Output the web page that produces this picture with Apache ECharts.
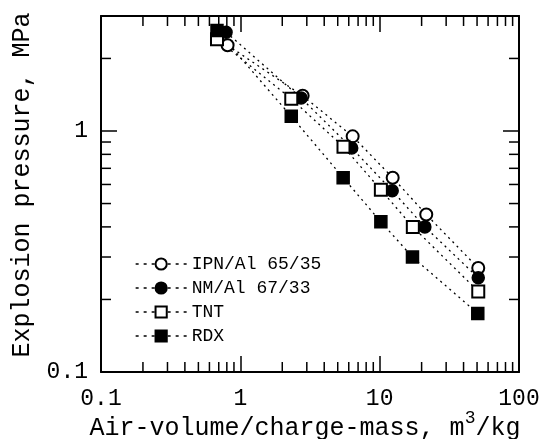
<!DOCTYPE html>
<html>
<head>
<meta charset="utf-8">
<script src="https://cdn.jsdelivr.net/npm/echarts@6/dist/echarts.min.js"></script>
<style>html,body{margin:0;padding:0;background:#fff}#c{width:542px;height:439px}</style>
</head>
<body>
<div id="c"></div>
<script>
const ipnX = [0.81, 2.8, 6.4, 12.4, 21.6, 51];
const ipnY = [2.27, 1.40, 0.95, 0.64, 0.45, 0.27];
const nmX  = [0.79, 2.73, 6.3, 12.3, 21.1, 51];
const nmY  = [2.57, 1.37, 0.85, 0.565, 0.40, 0.246];
const tntX = [0.68, 2.32, 5.5, 10.2, 17.3, 51];
const tntY = [2.40, 1.36, 0.86, 0.57, 0.40, 0.216];
const rdxX = [0.68, 2.32, 5.47, 10.2, 17.2, 50.6];
const rdxY = [2.61, 1.15, 0.64, 0.42, 0.30, 0.175];
const seriesNames = ['IPN/Al 65/35', 'NM/Al 67/33', 'TNT', 'RDX'];
const xMinorTicks = [0.2,0.3,0.4,0.5,0.6,0.7,0.8,0.9,2,3,4,5,6,7,8,9,20,30,40,50,60,70,80,90];
const yMinorTicks = [0.2,0.3,0.4,0.5,0.6,0.7,0.8,0.9,2];
const X_MIN = 0.1, X_MAX = 100, Y_MIN = 0.1, Y_MAX = 3;

const FONT = '"Liberation Mono", "DejaVu Sans Mono", monospace';
const pair = (xs, ys) => xs.map((x, i) => [x, ys[i]]);
const lineStyle = {color: '#000', width: 1.3, type: [2, 4]};

function mk(name, xs, ys, symbol, size) {
  return {
    name, type: 'line', data: pair(xs, ys), symbol, symbolSize: size,
    lineStyle, itemStyle: {color: '#000', borderColor: '#000', borderWidth: 1.5},
    emphasis: {disabled: true}, z: 3
  };
}
const tickStyle = {stroke: '#000', lineWidth: 1.5};

const chart = echarts.init(document.getElementById('c'), null, {renderer: 'canvas'});
chart.setOption({
  animation: false,
  backgroundColor: '#fff',
  grid: {left: 101, right: 23, top: 16, bottom: 67, containLabel: false, outerBoundsMode: 'none'},
  legend: {
    data: seriesNames, orient: 'vertical', left: 130, top: 250,
    itemWidth: 51, itemHeight: 14, itemGap: 6,
    lineStyle: {type: [3, 5], width: 1.3, color: '#000'},
    textStyle: {fontFamily: FONT, fontSize: 18, color: '#000', lineHeight: 18}
  },
  xAxis: [{
    type: 'log', logBase: 10, min: X_MIN, max: X_MAX, position: 'bottom',
    axisLine: {show: true, lineStyle: {color: '#000', width: 2}},
    axisTick: {show: true, inside: true, length: 16, lineStyle: {color: '#000', width: 1.5}},
    axisLabel: {fontFamily: FONT, fontSize: 23, color: '#000', margin: 15,
      formatter: v => (Math.abs(v - 0.1) < 1e-9 ? '0.1' : String(Math.round(v)))},
    splitLine: {show: false},
    name: 'Air-volume/charge-mass, m{s|3}/kg', nameLocation: 'middle', nameGap: 44,
    nameMoveOverlap: false,
    nameTextStyle: {fontFamily: FONT, fontSize: 25, color: '#000', lineHeight: 25, padding: [0, 10, 0, 0],
      rich: {s: {fontFamily: FONT, fontSize: 18, color: '#000', padding: [0, 0, 20, 0]}}}
  }, {
    type: 'log', logBase: 10, min: X_MIN, max: X_MAX, position: 'top',
    axisLine: {show: true, lineStyle: {color: '#000', width: 2}},
    axisTick: {show: true, inside: true, length: 16, lineStyle: {color: '#000', width: 1.5}},
    axisLabel: {show: false}, splitLine: {show: false}
  }],
  yAxis: [{
    type: 'log', logBase: 10, min: Y_MIN, max: Y_MAX, position: 'left',
    axisLine: {show: true, lineStyle: {color: '#000', width: 2}},
    axisTick: {show: true, inside: true, length: 16, lineStyle: {color: '#000', width: 1.5}},
    axisLabel: {fontFamily: FONT, fontSize: 23, color: '#000', margin: 13,
      formatter: v => (Math.abs(v - 0.1) < 1e-9 ? '0.1' : (Math.abs(v - 1) < 1e-9 ? '1' : ''))},
    splitLine: {show: false},
    name: 'Explosion pressure, MPa', nameLocation: 'middle', nameGap: 66,
    nameMoveOverlap: false,
    nameTextStyle: {fontFamily: FONT, fontSize: 25, color: '#000', lineHeight: 25, padding: [0, 0, 0, 18]}
  }, {
    type: 'log', logBase: 10, min: Y_MIN, max: Y_MAX, position: 'right',
    axisLine: {show: true, lineStyle: {color: '#000', width: 2}},
    axisTick: {show: true, inside: true, length: 16, lineStyle: {color: '#000', width: 1.5}},
    axisLabel: {show: false}, splitLine: {show: false}
  }],
  series: [
    {
      type: 'custom', silent: true, clip: false, z: 1,
      data: xMinorTicks.map(v => [v, 1]),
      renderItem: (params, api) => {
        const v = api.value(0);
        const b = api.coord([v, Y_MIN]), t = api.coord([v, Y_MAX]);
        return {type: 'group', children: [
          {type: 'line', shape: {x1: b[0], y1: b[1], x2: b[0], y2: b[1] - 10}, style: tickStyle},
          {type: 'line', shape: {x1: t[0], y1: t[1], x2: t[0], y2: t[1] + 10}, style: tickStyle}
        ]};
      }
    },
    {
      type: 'custom', silent: true, clip: false, z: 1,
      data: yMinorTicks.map(v => [1, v]),
      renderItem: (params, api) => {
        const v = api.value(1);
        const l = api.coord([X_MIN, v]), r = api.coord([X_MAX, v]);
        return {type: 'group', children: [
          {type: 'line', shape: {x1: l[0], y1: l[1], x2: l[0] + 10, y2: l[1]}, style: tickStyle},
          {type: 'line', shape: {x1: r[0], y1: r[1], x2: r[0] - 10, y2: r[1]}, style: tickStyle}
        ]};
      }
    },
    mk(seriesNames[0], ipnX, ipnY, 'emptyCircle', 12),
    mk(seriesNames[1], nmX, nmY, 'circle', 12),
    mk(seriesNames[2], tntX, tntY, 'emptyRect', 12),
    mk(seriesNames[3], rdxX, rdxY, 'rect', 12)
  ]
});
</script>
</body>
</html>
